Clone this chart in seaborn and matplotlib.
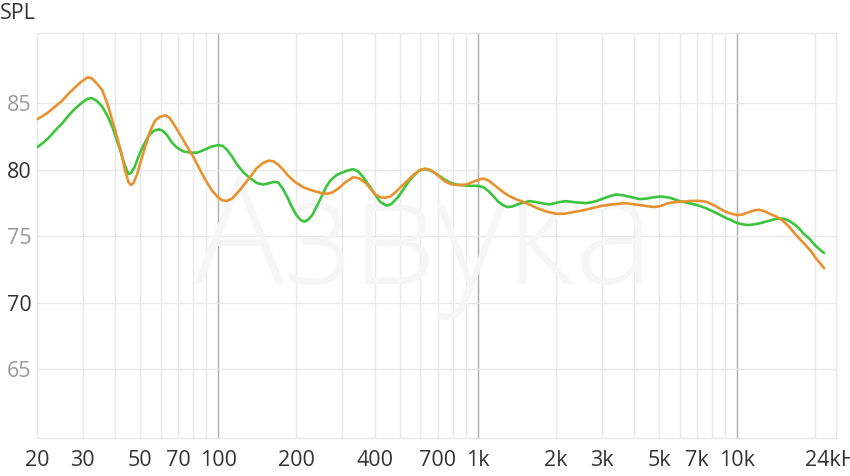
import numpy as np
import pandas as pd
import matplotlib
matplotlib.use("Agg")
import matplotlib.pyplot as plt
import seaborn as sns

# ---- data ----
green_freq = [20, 21, 22, 23.6, 25, 26.5, 28, 30, 31.3, 32.5, 34, 35.7, 37.3, 39, 40.5, 42,
              43.5, 45, 46, 47.5, 49, 51, 54, 56.5, 58.9, 61, 63.5, 66, 69, 73, 78, 83, 88,
              94, 100, 104, 108, 113, 118, 125, 133, 141, 149, 157, 164, 170, 177, 185, 192,
              200, 207, 214, 222, 230, 240, 250, 260, 270, 285, 300, 315, 331, 345, 360, 380,
              400, 420, 446, 465, 490, 515, 540, 565, 590, 610, 631, 655, 680, 710, 740, 780,
              828, 870, 920, 1000, 1050, 1100, 1150, 1200, 1250, 1300, 1360, 1420, 1500, 1580,
              1650, 1750, 1890, 2030, 2180, 2400, 2620, 2800, 3000, 3200, 3400, 3600, 3800,
              4000, 4200, 4500, 4800, 5100, 5500, 6000, 6500, 7000, 7500, 8000, 8500, 9000,
              9500, 10000, 10500, 11000, 11600, 12300, 13100, 14000, 14600, 15200, 15900,
              16600, 17300, 18000, 19000, 20000, 20800, 21600]
green_spl = [81.7, 82.0, 82.35, 83.0, 83.5, 84.1, 84.6, 85.1, 85.35, 85.4, 85.2, 84.75, 84.1,
             83.25, 82.3, 81.4, 80.4, 79.7, 79.75, 80.2, 80.9, 81.7, 82.6, 82.95, 83.05, 82.95,
             82.6, 82.1, 81.7, 81.4, 81.3, 81.3, 81.5, 81.75, 81.87, 81.8, 81.5, 81.0, 80.4,
             79.8, 79.35, 79.0, 78.9, 79.0, 79.1, 79.05, 78.6, 77.9, 77.2, 76.6, 76.25, 76.1,
             76.25, 76.6, 77.3, 78.0, 78.7, 79.2, 79.6, 79.8, 79.95, 80.05, 79.9, 79.5, 78.85,
             78.2, 77.6, 77.3, 77.45, 77.9, 78.5, 79.1, 79.55, 79.9, 80.02, 80.05, 79.95, 79.8,
             79.55, 79.3, 79.05, 78.9, 78.85, 78.8, 78.8, 78.7, 78.4, 78.0, 77.6, 77.35, 77.2,
             77.25, 77.4, 77.55, 77.65, 77.6, 77.5, 77.4, 77.55, 77.65, 77.55, 77.5, 77.6,
             77.8, 78.0, 78.15, 78.1, 78.0, 77.9, 77.8, 77.85, 77.95, 78.0, 77.9, 77.65, 77.5,
             77.35, 77.15, 76.9, 76.65, 76.4, 76.2, 76.0, 75.9, 75.85, 75.9, 76.0, 76.15, 76.3,
             76.35, 76.3, 76.15, 75.9, 75.6, 75.2, 74.8, 74.3, 74.0, 73.75]

orange_freq = [20, 21, 22, 23.6, 25, 26.5, 28, 29.5, 31.3, 32.5, 34, 35.7, 37.3, 39, 40.5, 42,
               43.5, 45, 46, 47, 48.5, 50, 52, 54.5, 57, 59.5, 62.5, 65, 68, 71, 75, 80, 85,
               90, 95, 100, 104, 108, 113, 120, 127, 133, 140, 148, 156, 163, 170, 178, 185,
               197, 212, 230, 250, 262, 275, 290, 310, 331, 350, 370, 385, 400, 420, 438, 460,
               480, 510, 540, 570, 600, 626, 655, 680, 710, 740, 770, 801, 850, 900, 960, 1000,
               1050, 1100, 1150, 1220, 1300, 1400, 1490, 1600, 1700, 1850, 2000, 2150, 2300,
               2600, 3000, 3300, 3700, 4200, 4800, 5100, 5400, 5800, 6200, 6700, 7100, 7600,
               8200, 9000, 9500, 10000, 10500, 11000, 11600, 12100, 12700, 13300, 14100, 14900,
               15700, 16500, 17400, 18400, 19200, 20000, 20800, 21600]
orange_spl = [83.8, 84.05, 84.3, 84.8, 85.2, 85.75, 86.2, 86.6, 86.96, 86.9, 86.5, 86.0, 85.0,
              83.75, 82.6, 81.5, 80.1, 79.1, 78.86, 79.0, 79.6, 80.5, 81.6, 82.9, 83.7, 84.0,
              84.1, 83.9, 83.3, 82.7, 81.9, 81.0, 80.0, 79.1, 78.4, 77.9, 77.7, 77.67, 77.85,
              78.4, 79.0, 79.5, 80.1, 80.5, 80.7, 80.65, 80.4, 80.0, 79.6, 79.1, 78.7, 78.45,
              78.25, 78.2, 78.3, 78.6, 79.1, 79.45, 79.35, 79.0, 78.6, 78.2, 77.95, 77.9, 78.0,
              78.3, 78.8, 79.25, 79.7, 80.0, 80.1, 80.0, 79.8, 79.5, 79.2, 79.0, 78.9, 78.85,
              78.9, 79.1, 79.25, 79.35, 79.2, 78.9, 78.5, 78.1, 77.8, 77.6, 77.35, 77.1, 76.85,
              76.7, 76.7, 76.8, 77.0, 77.3, 77.4, 77.5, 77.35, 77.2, 77.3, 77.5, 77.58, 77.62,
              77.67, 77.67, 77.6, 77.3, 76.85, 76.7, 76.6, 76.65, 76.8, 76.95, 77.0, 76.9, 76.7,
              76.5, 76.2, 75.8, 75.3, 74.8, 74.3, 73.9, 73.4, 73.0, 72.6]

x_ticks = [20, 30, 50, 70, 100, 200, 400, 700, 1000, 2000, 3000, 5000, 7000, 10000, 24000]
x_labels = ["20", "30", "50", "70", "100", "200", "400", "700", "1k", "2k", "3k", "5k", "7k",
            "10k", "24kHz"]
y_ticks = [65, 70, 75, 80, 85]
y_labels = ["65", "70", "75", "80", "85"]

df = pd.concat([
    pd.DataFrame({"freq": green_freq, "spl": green_spl, "series": "green"}),
    pd.DataFrame({"freq": orange_freq, "spl": orange_spl, "series": "orange"}),
])

sns.set_style("white")
plt.rcParams["font.family"] = ["Open Sans", "DejaVu Sans"]

fig = plt.figure(figsize=(8.5, 4.76), dpi=100)
ax = fig.add_axes([37 / 850, 1 - 437.7 / 476, (836 - 37) / 850, (437.7 - 33) / 476])
ax.set_xscale("log")
ax.set_xlim(20, 24000)
ax.set_ylim(59.85, 90.3)

# grid
minor_v = [f * 10 ** d for d in (1, 2, 3) for f in range(2, 10)] + [20000]
for v in minor_v:
    if v >= 20:
        ax.axvline(v, color="#e8e8e8", lw=1.0, zorder=0)
for v in (100, 1000, 10000):
    ax.axvline(v, color="#ababab", lw=1.0, zorder=0)
for h in y_ticks:
    ax.axhline(h, color="#e8e8e8", lw=1.0, zorder=0)

# watermark
ax.text(0.5 - 0.015, 0.38, "Азвука", transform=ax.transAxes, ha="center", va="baseline",
        fontsize=108, color="#f6f6f6", fontweight="light", zorder=0.5)

sns.lineplot(data=df, x="freq", y="spl", hue="series",
             palette={"green": "#3cc43c", "orange": "#e8912f"},
             linewidth=1.9, ax=ax, legend=False, zorder=3)
for ln in ax.get_lines():
    ln.set_solid_joinstyle("round")
    ln.set_solid_capstyle("round")

ax.set_xticks(x_ticks)
ax.set_xticklabels(x_labels)
ax.xaxis.set_minor_locator(matplotlib.ticker.NullLocator())
ax.set_yticks(y_ticks)
ax.set_yticklabels(y_labels)
ax.tick_params(axis="both", length=0, labelsize=15.5, colors="#333333")
ax.tick_params(axis="x", pad=9)
ax.tick_params(axis="y", pad=4)
for lab in ax.get_yticklabels():
    if lab.get_text() in ("65", "75", "85"):
        lab.set_color("#9a9a9a")
ax.set_xlabel("")
ax.set_ylabel("")
for s in ax.spines.values():
    s.set_color("#e8e8e8")
    s.set_linewidth(1.0)

fig.text(0.0, 1 - 3 / 476, "SPL", ha="left", va="top", fontsize=15.5, color="#333333")

fig.savefig("out.png", dpi=100)
